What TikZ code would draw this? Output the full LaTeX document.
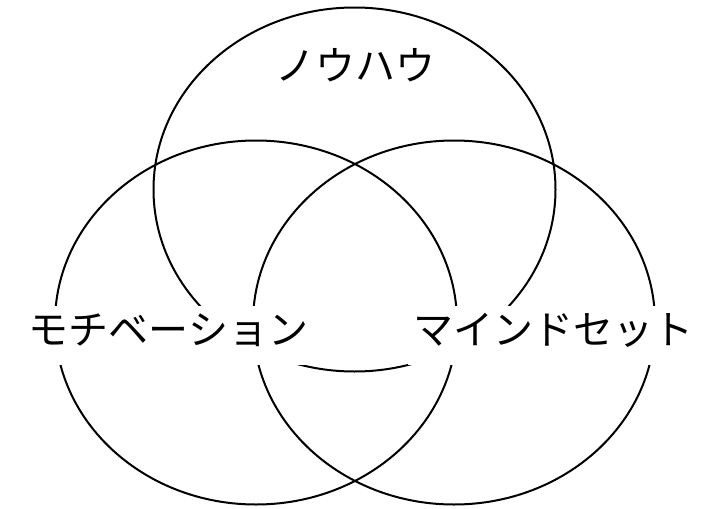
\documentclass[tikz,border=0pt]{standalone}
\usepackage{fontspec}
\newfontfamily\jp{Noto Sans CJK JP}
\usetikzlibrary{shapes.geometric}
\begin{document}
\begin{tikzpicture}[x=1pt,y=-1pt,
  circ/.style={draw=black, line width=2pt, ellipse, minimum width=402pt, minimum height=364pt, inner sep=0pt},
  lbl/.style={fill=white, inner xsep=6pt, inner ysep=0pt, anchor=base, text height=38pt, text depth=21pt, font=\jp\fontsize{40}{48}\selectfont}]
\useasboundingbox (0,0) rectangle (713,509);
\node[circ] (know) at (354.5,189.5) {};
\node[circ] (moti) at (256,322.5) {};
\node[circ] (mind) at (454,322.5) {};
\node[lbl, fill=none] (tknow) at (355,80) {ノウハウ};
\node[lbl] (tmoti) at (168.5,344) {モチベーション};
\node[lbl] (tmind) at (553.5,344) {マインドセット};
\end{tikzpicture}
\end{document}
